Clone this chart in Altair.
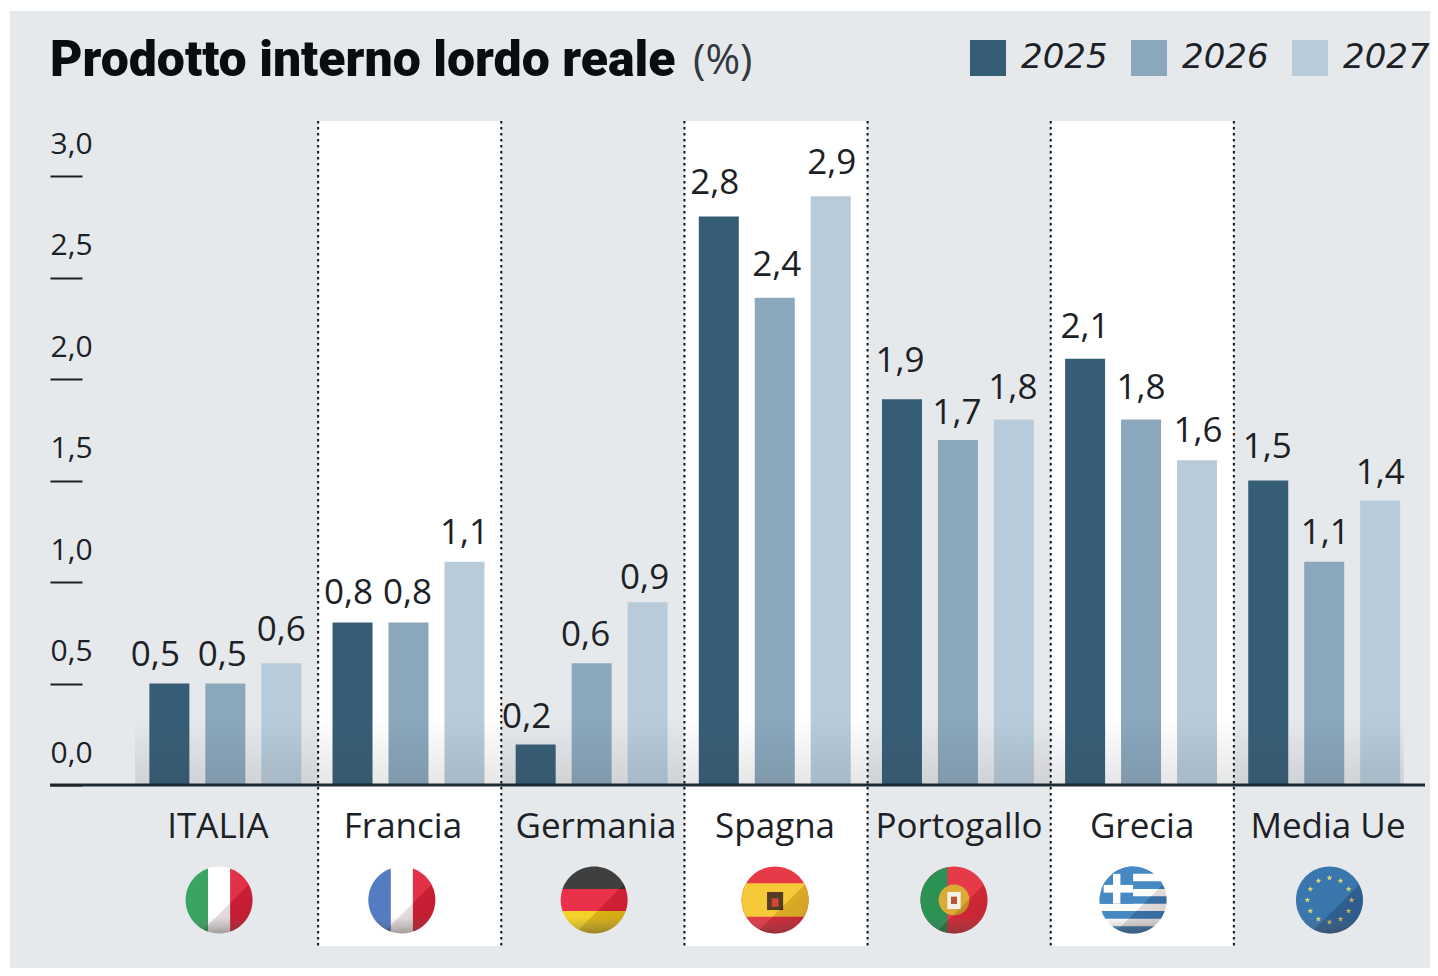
import math
import altair as alt
import pandas as pd

countries = ["ITALIA", "Francia", "Germania", "Spagna", "Portogallo", "Grecia", "Media Ue"]
years = ["2025", "2026", "2027"]
v2025 = [0.5, 0.8, 0.2, 2.8, 1.9, 2.1, 1.5]
v2026 = [0.5, 0.8, 0.6, 2.4, 1.7, 1.8, 1.1]
v2027 = [0.6, 1.1, 0.9, 2.9, 1.8, 1.6, 1.4]
y_ticks = [0, 0.5, 1, 1.5, 2, 2.5, 3]
white_columns = ["Francia", "Spagna", "Grecia"]

TXT = "#1c2126"
BG = "#e6e9ec"
FONT = "Open Sans"
colors = ["#365d76", "#8aa7bc", "#b7cbda"]

rows = []
for i, c in enumerate(countries):
    for yr, vals in zip(years, [v2025, v2026, v2027]):
        rows.append({"country": c, "year": yr, "value": vals[i],
                     "label": f"{vals[i]:.1f}".replace(".", ",")})
df = pd.DataFrame(rows)

# label placement relative to its bar (style only): horizontal shift, gap above the bar
label_dx = [-14, -3, 0, -4, -1, 0, -9, -6, -3, -4, 2, 1, -2, -1, -1, 0, 0, 1, -1, 1, 0]
label_gap = [18, 18, 22, 19, 19, 18, 16, 17, 13, 23, 22, 22, 27, 16, 21, 21, 21, 18, 23, 18, 17]

x_scale = alt.Scale(domain=countries, range=[127, 1409], paddingInner=0, paddingOuter=0)
y_scale = alt.Scale(domain=[0, 3], range=[777, 168])
off_scale = alt.Scale(domain=years, range=[-1.2, 181.9], paddingInner=0.2857, paddingOuter=0.2786)
X = alt.X("country:N", scale=x_scale, axis=None)
XO = alt.XOffset("year:N", scale=off_scale)
Y_AX = alt.Y("value:Q", scale=y_scale, title=None, axis=alt.Axis(
    values=y_ticks, domain=False, grid=False, offset=-74, tickSize=32, tickWidth=1.8,
    tickColor=TXT, labelAlign="left", labelPadding=0, labelOffset=-32, labelBaseline="middle",
    labelFont=FONT, labelFontSize=30, labelColor=TXT, zindex=1,
    labelExpr="replace(format(datum.value,'.1f'),'.',',')"))

one = pd.DataFrame({"a": [0]})

panel = alt.Chart(one).mark_rect(color=BG).encode(
    x=alt.value(2), x2=alt.value(1422), y=alt.value(3), y2=alt.value(960))

whites = alt.Chart(pd.DataFrame({"country": white_columns})).mark_rect(color="#ffffff").encode(
    x=X, y=alt.value(113), y2=alt.value(938))

bars = alt.Chart(df).mark_bar(size=40).encode(
    x=X, xOffset=XO, y=Y_AX, y2=alt.datum(0),
    color=alt.Color("year:N", scale=alt.Scale(domain=years, range=colors), legend=alt.Legend(
        orient="none", legendX=962, legendY=32, direction="horizontal", title=None,
        symbolType="square", symbolSize=1296, symbolStrokeWidth=0, symbolOpacity=1,
        labelFont="DejaVu Sans", labelFontSize=34, labelFontStyle="italic", labelColor=TXT,
        labelOffset=15, columnPadding=23, padding=0)))

shade = alt.Chart(one).mark_rect(fill={
    "gradient": "linear", "x1": 0, "y1": 0, "x2": 0, "y2": 1,
    "stops": [{"offset": 0, "color": "rgba(60,60,60,0)"},
              {"offset": 1, "color": "rgba(60,60,60,0.13)"}]}).encode(
    x=alt.value(127), x2=alt.value(1396), y=alt.value(710), y2=alt.value(777))

dividers = alt.Chart(pd.DataFrame({"country": countries[1:]})).mark_rule(
    color="#111111", strokeWidth=2, strokeDash=[2.5, 3.5]).encode(
    x=alt.X("country:N", scale=x_scale, axis=None, bandPosition=0),
    y=alt.value(113), y2=alt.value(938))

baseline = alt.Chart(one).mark_rule(color="#1b2a33", strokeWidth=3).encode(
    x=alt.value(42), x2=alt.value(1417), y=alt.datum(0))

value_layers = []
for r, ldx, gap in zip(df.itertuples(), label_dx, label_gap):
    value_layers.append(alt.Chart(df[(df.country == r.country) & (df.year == r.year)]).mark_text(
        font=FONT, fontSize=35, color=TXT, baseline="alphabetic", dy=-gap, dx=ldx).encode(
        x=X, xOffset=XO, y=Y_AX, text="label:N"))

# category names sit slightly off the column centres
name_band = [0.453, 0.463, 0.517, 0.495, 0.499, 0.499, 0.514]
name_layers = [alt.Chart(pd.DataFrame({"country": [c]})).mark_text(
    font=FONT, fontSize=35, color=TXT, baseline="alphabetic", text=c).encode(
    x=alt.X("country:N", scale=x_scale, axis=None, bandPosition=b), y=alt.value(830))
    for c, b in zip(countries, name_band)]


def chord_v(a, b):
    """Slice of the unit disc between vertical lines x=a and x=b."""
    ya, yb = math.sqrt(1 - a * a), math.sqrt(1 - b * b)
    return (f"M{a:.3f} {-ya:.3f}A1 1 0 0 1 {b:.3f} {-yb:.3f}"
            f"L{b:.3f} {yb:.3f}A1 1 0 0 1 {a:.3f} {ya:.3f}Z")


def chord_h(a, b):
    """Slice of the unit disc between horizontal lines y=a and y=b."""
    xa, xb = math.sqrt(1 - a * a), math.sqrt(1 - b * b)
    return (f"M{-xa:.3f} {a:.3f}L{xa:.3f} {a:.3f}A1 1 0 0 1 {xb:.3f} {b:.3f}"
            f"L{-xb:.3f} {b:.3f}A1 1 0 0 1 {-xa:.3f} {a:.3f}Z")


DISC = "M-1 0A1 1 0 1 1 1 0A1 1 0 1 1 -1 0Z"


def ring_stars(r, s):
    out = ""
    for k in range(12):
        t = k * math.pi / 6
        cx, cy = r * math.cos(t), r * math.sin(t)
        pts = []
        for j in range(10):
            rad = s if j % 2 == 0 else s * 0.42
            a = -math.pi / 2 + j * math.pi / 5
            pts.append(f"{cx + rad * math.cos(a):.3f} {cy + rad * math.sin(a):.3f}")
        out += "M" + "L".join(pts) + "Z"
    return out


def square(x0, y0, x1, y1):
    return f"M{x0} {y0}L{x1} {y0}L{x1} {y1}L{x0} {y1}Z"


GRK_B = "#3a82bf"
GRK_CANTON = "M0 -1A1 1 0 0 0 -0.994 0.11L0 0.11Z"
flags = {
    "ITALIA": (0.459, [(DISC, "#ffffff"), (chord_v(-1, -0.33), "#2f9e5b"), (chord_v(0.33, 1), "#e0233c")]),
    "Francia": (0.457, [(DISC, "#ffffff"), (chord_v(-1, -0.33), "#4a74bd"), (chord_v(0.33, 1), "#e0233c")]),
    "Germania": (0.507, [(chord_h(-1, -0.33), "#333333"), (chord_h(-0.33, 0.33), "#e8253e"), (chord_h(0.33, 1), "#f3cf1a")]),
    "Spagna": (0.495, [(DISC, "#e62e3e"), (chord_h(-0.5, 0.5), "#f5c62c"),
                       (square(-0.24, -0.24, 0.24, 0.3), "#4a3018"), (square(-0.1, -0.05, 0.1, 0.2), "#d23a2a")]),
    "Portogallo": (0.472, [(DISC, "#e62e3e"), (chord_v(-1, -0.2), "#1e8a4a"),
                           ("M-0.46 0A0.46 0.46 0 1 1 0.46 0A0.46 0.46 0 1 1 -0.46 0Z", "#d9a52a"),
                           (square(-0.2, -0.24, 0.2, 0.27), "#f2efe6"), (square(-0.09, -0.1, 0.09, 0.12), "#b5482a")]),
    "Grecia": (0.45, [(DISC, "#ffffff")]
               + [(chord_h(a, b), GRK_B) for a, b in [(-1, -0.78), (-0.56, -0.33), (-0.11, 0.11), (0.33, 0.56), (0.78, 1)]]
               + [(GRK_CANTON, GRK_B), (square(-0.6, -0.78, -0.38, 0.11), "#ffffff"),
                  (square(-0.88, -0.45, 0, -0.22), "#ffffff")]),
    "Media Ue": (0.522, [(DISC, "#2d6ea8"), (ring_stars(0.66, 0.09), "#d8d36a")]),
}

gloss = [
    {"gradient": "linear", "x1": 0, "y1": 0, "x2": 1, "y2": 1,
     "stops": [{"offset": 0, "color": "rgba(255,255,255,0.06)"},
               {"offset": 0.6, "color": "rgba(255,255,255,0.06)"},
               {"offset": 0.61, "color": "rgba(60,0,0,0.14)"},
               {"offset": 1, "color": "rgba(40,0,0,0.2)"}]},
    {"gradient": "linear", "x1": 0, "y1": 0, "x2": 0, "y2": 1,
     "stops": [{"offset": 0, "color": "rgba(120,120,120,0)"},
               {"offset": 0.75, "color": "rgba(120,120,120,0)"},
               {"offset": 1, "color": "rgba(70,70,70,0.4)"}]},
]

flag_layers = []
SIZE = 67 * 67
for c, (band, pieces) in flags.items():
    fx = alt.X("country:N", scale=x_scale, axis=None, bandPosition=band)
    src = alt.Chart(pd.DataFrame({"country": [c]}))
    for path, col in pieces:
        flag_layers.append(src.mark_point(shape=path, size=SIZE, filled=True, fill=col,
                                          opacity=1, strokeWidth=0).encode(x=fx, y=alt.value(892)))
    for g in gloss:
        flag_layers.append(src.mark_point(shape=DISC, size=SIZE, filled=True, fill=g,
                                          opacity=1, strokeWidth=0).encode(x=fx, y=alt.value(892)))

pct = alt.Chart(one).mark_text(font=FONT, fontSize=42, color="#33393e", align="left",
                               baseline="alphabetic", text="(%)").encode(
    x=alt.value(685), y=alt.value(66))

chart = alt.layer(panel, whites, bars, shade, dividers, baseline,
                  *value_layers, *name_layers, *flag_layers, pct).properties(
    width=1422, height=960, padding=0, autosize=alt.AutoSizeParams(type="none"),
    title=alt.TitleParams("Prodotto interno lordo reale", anchor="start", frame="group",
                          dx=42, dy=118, offset=0, baseline="alphabetic", font="Roboto",
                          fontSize=50, fontWeight=900, color="#0a0c10")
).configure_view(stroke=None).resolve_scale(x="shared", y="shared")

chart.save("out.html", embed_options={"renderer": "svg", "actions": False})
